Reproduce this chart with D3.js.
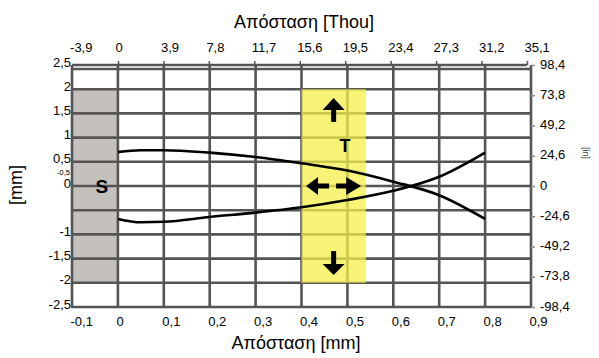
<!DOCTYPE html>
<html>
<head>
<meta charset="utf-8">
<script src="https://cdn.jsdelivr.net/npm/d3@7"></script>
<style>
  body { margin: 0; background: #fff; }
  svg { display: block; font-family: "Liberation Sans", Arial, sans-serif; }
</style>
</head>
<body>
<div id="chart"></div>
<script>
// distance along the part [mm]
const distMm = [0, 0.05, 0.1, 0.2, 0.3, 0.4, 0.5, 0.6, 0.7, 0.8];
// the two profile lines [mm]
const upperMm = [0.70, 0.74, 0.74, 0.69, 0.60, 0.47, 0.32, 0.09, -0.19, -0.68];
const lowerMm = [-0.68, -0.75, -0.74, -0.64, -0.55, -0.44, -0.29, -0.10, 0.19, 0.69];

const mmTicksX = [-0.1, 0, 0.1, 0.2, 0.3, 0.4, 0.5, 0.6, 0.7, 0.8, 0.9];
const thouTicksX = [-3.9, 0, 3.9, 7.8, 11.7, 15.6, 19.5, 23.4, 27.3, 31.2, 35.1];
const mmTicksY = [2.5, 2, 1.5, 1, 0.5, 0, -1, -1.5, -2, -2.5];
const gridY = [-2.5, -2, -1.5, -1, -0.5, 0, 0.5, 1, 1.5, 2];
const inTicksY = [98.4, 73.8, 49.2, 24.6, 0, -24.6, -49.2, -73.8, -98.4];

// shaded zones
const stockZone = [-0.1, 0];     // "S"
const toolZone = [0.4, 0.54];    // "T"

const W = 599, H = 358;
const gridColor = '#555';
const comma = d => String(d).replace('.', ',');

const svg = d3.select('#chart').append('svg')
  .attr('width', W)
  .attr('height', H);

const x = d3.scaleLinear().domain([-0.1, 0.9]).range([72, 531]);
const y = d3.scaleLinear().domain([-2.5, 2.5]).range([307, 65]);
const yIn = d3.scaleLinear().domain([-98.4, 98.4]).range([307, 65]);
const xThou = d3.scaleLinear().domain([0, 35.1]).range([118, 527]);

// grey zone
svg.append('rect')
  .attr('x', x(stockZone[0]))
  .attr('y', y(2))
  .attr('width', x(stockZone[1]) - x(stockZone[0]))
  .attr('height', y(-2) - y(2))
  .attr('fill', '#c4c0bc');

// grid
const grid = svg.append('g')
  .attr('stroke', gridColor)
  .attr('stroke-width', 2.6);

grid.selectAll('line.v')
  .data(mmTicksX)
  .enter()
  .append('line')
  .attr('class', 'v')
  .attr('x1', d => x(d)).attr('x2', d => x(d))
  .attr('y1', y(2.5)).attr('y2', y(-2.5) + 1);

grid.selectAll('line.h')
  .data(gridY)
  .enter()
  .append('line')
  .attr('class', 'h')
  .attr('x1', x(-0.1)).attr('x2', x(0.9))
  .attr('y1', d => y(d)).attr('y2', d => y(d));

// top border (sits a bit below the axis line)
grid.append('line')
  .attr('x1', x(-0.1)).attr('x2', x(0.9))
  .attr('y1', y(2.5) + 4).attr('y2', y(2.5) + 4);

// yellow zone, drawn over the grid
svg.append('rect')
  .attr('x', x(toolZone[0]))
  .attr('y', y(2))
  .attr('width', x(toolZone[1]) - x(toolZone[0]))
  .attr('height', y(-2) - y(2))
  .attr('fill', 'rgb(246,240,72)')
  .attr('fill-opacity', 0.74);

// curves
const line = d3.line()
  .x((d, i) => x(distMm[i]))
  .y(d => y(d))
  .curve(d3.curveMonotoneX);

[upperMm, lowerMm].forEach(s => {
  svg.append('path')
    .datum(s)
    .attr('d', line)
    .attr('fill', 'none')
    .attr('stroke', '#000')
    .attr('stroke-width', 2.6);
});

// arrows
const ax = x(0.47);
const arrows = svg.append('g').attr('fill', '#000');

// up
const upTip = y(1.82);
arrows.append('path')
  .attr('d', `M${ax},${upTip} L${ax + 11},${upTip + 12} L${ax - 11},${upTip + 12} Z`);
arrows.append('rect')
  .attr('x', ax - 2.5).attr('y', upTip + 11).attr('width', 5).attr('height', 13);

// down
const dnTip = y(-1.84);
arrows.append('path')
  .attr('d', `M${ax},${dnTip} L${ax + 11},${dnTip - 11} L${ax - 11},${dnTip - 11} Z`);
arrows.append('rect')
  .attr('x', ax - 2.5).attr('y', dnTip - 24).attr('width', 5).attr('height', 14);

// left / right, dashed shaft
const ly = y(0), lx0 = x(0.41), lx1 = x(0.53);
arrows.append('path')
  .attr('d', `M${lx0},${ly} L${lx0 + 12},${ly - 9} L${lx0 + 12},${ly + 9} Z`);
arrows.append('path')
  .attr('d', `M${lx1},${ly} L${lx1 - 15},${ly - 9} L${lx1 - 15},${ly + 9} Z`);
arrows.append('line')
  .attr('x1', lx0 + 11).attr('x2', lx1 - 14)
  .attr('y1', ly).attr('y2', ly)
  .attr('stroke', '#000')
  .attr('stroke-width', 5)
  .attr('stroke-dasharray', '12,7');

// zone letters
svg.append('text')
  .attr('x', x(-0.035)).attr('y', y(-0.15))
  .attr('text-anchor', 'middle')
  .style('font-size', '19px').style('font-weight', 'bold')
  .text('S');
svg.append('text')
  .attr('x', x(0.495)).attr('y', y(0.7))
  .attr('text-anchor', 'middle')
  .style('font-size', '18px').style('font-weight', 'bold')
  .text('T');

// axes
const styleAxis = g => {
  g.select('.domain').remove();
  g.selectAll('.tick line').attr('stroke', gridColor).attr('stroke-width', 1.5);
  g.selectAll('.tick text').attr('fill', '#000').style('font-size', '13px');
};

const topAxis = svg.append('g')
  .attr('transform', `translate(0,${y(2.5)})`)
  .call(d3.axisTop(xThou).tickValues(thouTicksX).tickFormat(comma).tickSize(4).tickPadding(9));
styleAxis(topAxis);
topAxis.selectAll('.tick text').attr('text-anchor', 'start').attr('dx', -3);
topAxis.selectAll('.tick').filter(d => d < 0).select('line').remove();

// top axis line
svg.append('line')
  .attr('x1', x(-0.1)).attr('x2', xThou(35.1))
  .attr('y1', y(2.5)).attr('y2', y(2.5))
  .attr('stroke', gridColor).attr('stroke-width', 2.6);

const bottomAxis = svg.append('g')
  .attr('transform', `translate(0,${y(-2.5)})`)
  .call(d3.axisBottom(x).tickValues(mmTicksX).tickFormat(comma).tickSize(0).tickPadding(10));
styleAxis(bottomAxis);
bottomAxis.selectAll('.tick text').attr('text-anchor', 'start').attr('dx', -2);

const leftAxis = svg.append('g')
  .attr('transform', `translate(${x(-0.1)},0)`)
  .call(d3.axisLeft(y).tickValues(mmTicksY).tickFormat(comma).tickSize(0).tickPadding(1));
styleAxis(leftAxis);
leftAxis.selectAll('.tick text').attr('y', -3);

svg.append('text')
  .attr('x', x(-0.1) - 2).attr('y', y(0.5) + 13)
  .attr('text-anchor', 'end')
  .style('font-size', '7.5px')
  .text('-0,5');

const rightAxis = svg.append('g')
  .attr('transform', `translate(${x(0.9)},0)`)
  .call(d3.axisRight(yIn).tickValues(inTicksY).tickFormat(comma).tickSize(4).tickPadding(5));
styleAxis(rightAxis);
rightAxis.selectAll('.tick line').attr('stroke', '#888').attr('stroke-width', 1.5);
rightAxis.selectAll('.tick text').attr('y', -1);

// titles
svg.append('text')
  .attr('x', 304).attr('y', 28)
  .attr('text-anchor', 'middle')
  .style('font-size', '18px')
  .text('Απόσταση [Thou]');

svg.append('text')
  .attr('x', 296).attr('y', 349)
  .attr('text-anchor', 'middle')
  .style('font-size', '18px')
  .text('Απόσταση [mm]');

svg.append('text')
  .attr('transform', 'translate(22,185) rotate(-90)')
  .attr('text-anchor', 'middle')
  .style('font-size', '18px')
  .text('[mm]');

svg.append('text')
  .attr('transform', 'translate(583,153) rotate(90)')
  .attr('text-anchor', 'middle')
  .attr('fill', '#444')
  .style('font-size', '9px')
  .text('[in]');
</script>
</body>
</html>
